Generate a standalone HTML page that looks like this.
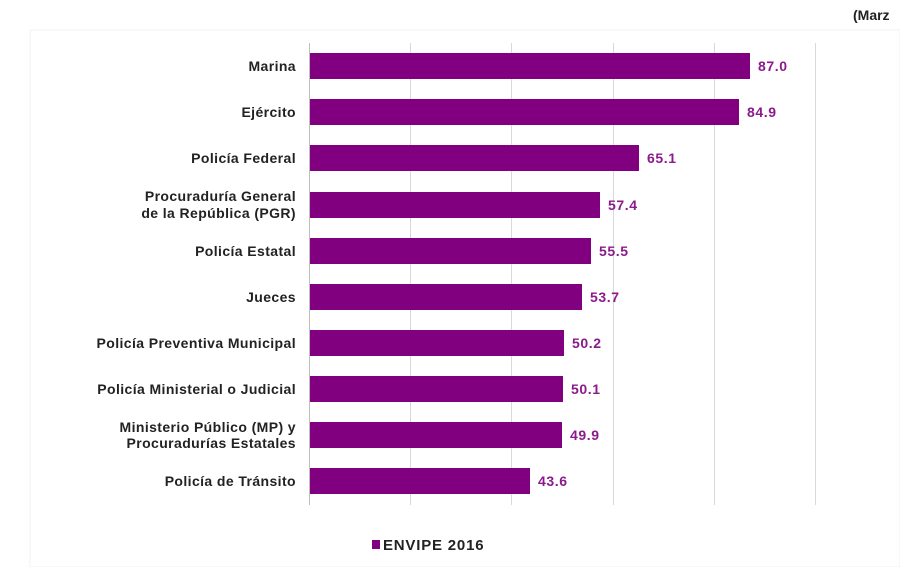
<!DOCTYPE html>
<html><head><meta charset="utf-8"><style>
body{margin:0;background:#fff;width:900px;height:567px;overflow:hidden;font-family:"Liberation Sans",Arial,sans-serif}
</style></head><body>
<svg width="900" height="567" xmlns="http://www.w3.org/2000/svg" font-family="Liberation Sans, Arial, sans-serif">
<rect x="30" y="30" width="870" height="537" fill="none" stroke="#f2f2f2"/>
<text x="853" y="20" font-size="14" font-weight="bold" fill="#222">(Marz</text>
<g stroke="#d9d9d9" stroke-width="1">
<line x1="410.5" y1="43" x2="410.5" y2="505"/>
<line x1="511.5" y1="43" x2="511.5" y2="505"/>
<line x1="613.5" y1="43" x2="613.5" y2="505"/>
<line x1="714.5" y1="43" x2="714.5" y2="505"/>
<line x1="815.5" y1="43" x2="815.5" y2="505"/>
</g>
<line x1="309.5" y1="43" x2="309.5" y2="505" stroke="#bfbfbf"/>
<g fill="#800080">
<rect x="310" y="53" width="440" height="26"/>
<rect x="310" y="99" width="429" height="26"/>
<rect x="310" y="145" width="329" height="26"/>
<rect x="310" y="192" width="290" height="26"/>
<rect x="310" y="238" width="281" height="26"/>
<rect x="310" y="284" width="272" height="26"/>
<rect x="310" y="330" width="254" height="26"/>
<rect x="310" y="376" width="253" height="26"/>
<rect x="310" y="422" width="252" height="26"/>
<rect x="310" y="468" width="220" height="26"/>
</g>
<g fill="#8b1a8b" font-size="14" font-weight="bold" letter-spacing="0.6">
<text x="758" y="71">87.0</text>
<text x="747" y="117">84.9</text>
<text x="647" y="163">65.1</text>
<text x="608" y="210">57.4</text>
<text x="599" y="256">55.5</text>
<text x="590" y="302">53.7</text>
<text x="572" y="348">50.2</text>
<text x="571" y="394">50.1</text>
<text x="570" y="440">49.9</text>
<text x="538" y="486">43.6</text>
</g>
<g fill="#222" font-size="14" font-weight="bold" text-anchor="end" letter-spacing="0.4">
<text x="296" y="71">Marina</text>
<text x="296" y="117">Ejército</text>
<text x="296" y="163">Policía Federal</text>
<text x="296" y="201">Procuraduría General</text>
<text x="296" y="218">de la República (PGR)</text>
<text x="296" y="256">Policía Estatal</text>
<text x="296" y="302">Jueces</text>
<text x="296" y="348">Policía Preventiva Municipal</text>
<text x="296" y="394">Policía Ministerial o Judicial</text>
<text x="296" y="432">Ministerio Público (MP) y</text>
<text x="296" y="448">Procuradurías Estatales</text>
<text x="296" y="486">Policía de Tránsito</text>
</g>
<rect x="372" y="540" width="8" height="9" fill="#800080"/>
<text x="383" y="550" font-size="15" font-weight="bold" fill="#222" letter-spacing="0.8">ENVIPE 2016</text>
</svg>
</body></html>
